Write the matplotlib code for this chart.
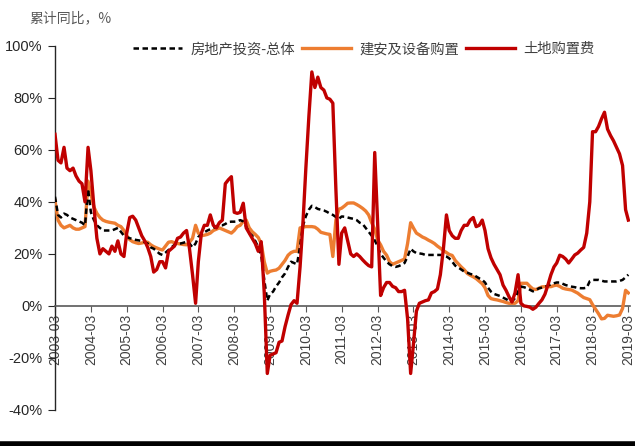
import pandas as pd
import numpy as np
import matplotlib
matplotlib.use("Agg")
import matplotlib.pyplot as plt
import matplotlib.dates as mdates
from matplotlib.ticker import FuncFormatter

plt.rcParams['font.family'] = ['Liberation Sans', 'Noto Sans CJK SC', 'DejaVu Sans']

months = pd.date_range("2003-03-01", "2019-03-01", freq="MS")

# 房地产投资-总体
total = [42, 35, 34, 35.5, 35, 34, 33.5, 33, 32.5, 32, 31, 45,
         36, 33, 31, 30, 29, 29, 29, 29, 29.5, 30, 28.5, 27,
         26.5, 26, 25.8, 25.4, 25.2, 25, 24.5, 24, 22.5, 22, 21, 20,
         19.6, 20.5, 21.5, 22.5, 23.5, 24, 24, 24.3, 24.7, 24, 22.5, 24,
         26.5, 27.5, 28.3, 29, 29.5, 30, 30.5, 31, 31, 31.5, 32.3, 32.4,
         32.4, 32.5, 33, 32.5, 30.5, 28, 27, 25, 22.5, 19.5, 10, 2,
         4.5, 5.5, 7.5, 9, 11, 12.5, 15, 17, 16.5, 16, 23, 31,
         34.5, 37, 38.5, 38, 37.3, 37, 36.7, 36.2, 35.5, 35, 34.2, 33.5,
         34.4, 34.3, 34, 33.7, 33.5, 33, 32, 31.5, 30, 28.5, 27, 25.2,
         23, 20, 18.5, 17, 16, 15.3, 15, 15.3, 15.8, 16.5, 19, 22,
         21, 20.3, 20.2, 20, 19.6, 19.6, 19.6, 19.6, 19.6, 19.6, 19.4, 19,
         18.3, 17, 15.5, 14.8, 14, 13.2, 12.8, 12.3, 12, 11.3, 10.6, 10,
         9, 7, 5.5, 4.6, 4.2, 3.8, 3.2, 2.6, 2, 1.7, 3, 5.5,
         7.4, 7.2, 6.8, 6.2, 5.6, 6, 6.8, 7, 7.3, 7.8, 8.3, 8.7,
         9, 9, 8.5, 8, 7.7, 7.4, 7.2, 6.9, 6.8, 6.8, 7, 9.5,
         10, 10, 10, 9.7, 9.4, 9.4, 9.4, 9.4, 9.4, 9.6, 10, 11,
         12]

# 建安及设备购置
build = [40.5, 33, 31, 30, 30.5, 31, 30, 29.5, 29.5, 30, 30.5, 48,
         43, 38, 35.6, 34, 33, 32.5, 32.2, 32, 31.8, 31, 30.5, 29,
         27, 25.5, 24.7, 24.3, 24, 24.2, 24.5, 24.5, 23.5, 22.8, 22.3, 21.8,
         21.5, 23, 24.5, 24.7, 24.3, 24, 23.8, 23.6, 23.5, 24.5, 26, 31,
         28, 27, 27.2, 27.5, 28, 29, 29.5, 30, 29.5, 29, 28.5, 28,
         29, 30.5, 31, 32.5, 33, 30, 28.5, 27.5, 26.3, 24, 17, 12.6,
         13.3, 13.6, 13.8, 14.5, 16, 17.5, 19.5, 20.5, 21, 21, 30, 30.3,
         30.5, 30.5, 30.5, 30.3, 29.5, 28.3, 28, 27.7, 27.5, 19, 33, 37.2,
         37.6, 38.5, 39.5, 39.6, 39.6, 39, 38.3, 37.5, 36.5, 35, 32, 29.5,
         25.4, 23.5, 21, 19.5, 17, 16, 16.5, 17, 17.5, 18, 24, 32,
         30, 28, 27.3, 26.5, 26, 25.3, 24.7, 24, 23, 22.2, 21.3, 20.5,
         19.8, 19.4, 17.5, 16.2, 15, 13.9, 12.5, 11.8, 11.2, 10.5, 9.5, 8.5,
         7, 4, 2.8, 2.5, 2.3, 2, 1.7, 1.3, 1, 1, 1, 2,
         8.7, 8.7, 8.7, 7.5, 6.5, 6.3, 6.8, 7.3, 7.4, 7.4, 7.4, 7.8,
         8, 7.5, 6.8, 6.5, 6.3, 6.1, 5.5, 4.9, 4, 3.2, 2.8, 2.4,
         0.5, -1.3, -3, -5, -4.8, -3.6, -3.8, -4, -3.8, -3.5, -1, 6,
         5]

# 土地购置费
land = [66, 56, 55, 61, 53, 52, 53, 50, 48, 47, 40, 61,
        52, 38, 26, 20, 22, 21, 20, 23, 21, 25, 20, 19,
        28, 34, 34.5, 33, 30, 27, 25, 22.5, 19, 13, 14, 17,
        17, 14.6, 21, 22, 23, 26, 26.5, 28, 29, 22, 12, 1,
        17, 28, 31, 31, 35, 31, 30, 32, 33, 47, 48.5, 49.7,
        36, 35.6, 36, 39.5, 30, 28, 26, 24, 21, 24.7, 5, -26,
        -19, -18.5, -18, -14, -13.5, -8, -3.5, 0.5, 2, 1, 15, 33,
        53, 73, 90, 84, 88, 84, 83, 80, 79.5, 78, 45, 16,
        28, 30, 25, 20, 19, 20, 19, 17.7, 16.5, 15.5, 15, 59,
        32, 4, 7, 9, 9, 7.5, 7, 5.5, 5.5, 6, -5, -26,
        -15, -2, 1, 1.5, 2, 2.3, 5, 5.5, 6.5, 12, 22, 35,
        29, 27, 26, 26, 29, 31, 31, 33, 34, 30.5, 31, 33,
        29, 22, 18.5, 16, 14, 12, 8, 6, 3.5, 1.5, 5, 12,
        1, 0, -0.2, -0.5, -1.3, -0.5, 1, 2.3, 4.5, 8, 12, 15,
        16.5, 19.5, 19, 18, 16.5, 18, 19.6, 20.3, 21.5, 22.5, 28, 40,
        67, 67, 69, 72, 74.5, 68, 65.5, 63.5, 61, 58.5, 54, 37,
        33]

fig = plt.figure(figsize=(6.35, 4.46), dpi=100)
ax = fig.add_axes([0.0866, 0.081, 0.906, 0.816])

ax.plot(months, np.array(total) / 100, color="black", lw=1.8, ls=(0, (2.2, 1.4)),
        label="房地产投资-总体", zorder=4)
ax.plot(months, np.array(build) / 100, color="#ED7D31", lw=2.4,
        label="建安及设备购置", zorder=3)
ax.plot(months, np.array(land) / 100, color="#C00000", lw=2.4,
        label="土地购置费", zorder=5)

ax.set_ylim(-0.4, 1.0)
ax.set_yticks(np.arange(-0.4, 1.01, 0.2))
ax.yaxis.set_major_formatter(FuncFormatter(lambda v, p: f"{v*100:.0f}%"))
ax.set_xlim(months[0], months[-1] + pd.Timedelta(days=20))

ax.xaxis.set_major_locator(mdates.MonthLocator(bymonth=3))
ax.xaxis.set_major_formatter(mdates.DateFormatter("%Y-%m"))

for s in ["top", "right"]:
    ax.spines[s].set_visible(False)
ax.spines["bottom"].set_position(("data", 0))
ax.spines["bottom"].set_color("#595959")
ax.spines["bottom"].set_linewidth(1.2)
ax.spines["left"].set_color("#262626")
ax.spines["left"].set_linewidth(1.0)

ax.tick_params(axis="x", direction="out", length=4, color="#595959", pad=2,
               labelsize=10, labelcolor="#404040", labelrotation=90)
ax.tick_params(axis="y", direction="out", length=5, color="#262626", pad=4,
               labelsize=10.5, labelcolor="#262626")

fig.text(0.047, 0.96, "累计同比，%", fontsize=10, color="#595959", va="center",
         family=["Noto Sans CJK SC", "DejaVu Sans"])

leg = ax.legend(loc="upper center", bbox_to_anchor=(0.537, 1.045), ncol=3,
                frameon=False, handlelength=3.4, columnspacing=0.5,
                handletextpad=0.6,
                prop={"family": ["Noto Sans CJK SC", "DejaVu Sans"], "size": 10.3})
for t in leg.get_texts():
    t.set_color("#404040")

fig.add_artist(plt.Line2D([0, 1], [0.004, 0.004], transform=fig.transFigure,
                          color="black", lw=4))

fig.savefig("out.png", dpi=100)
